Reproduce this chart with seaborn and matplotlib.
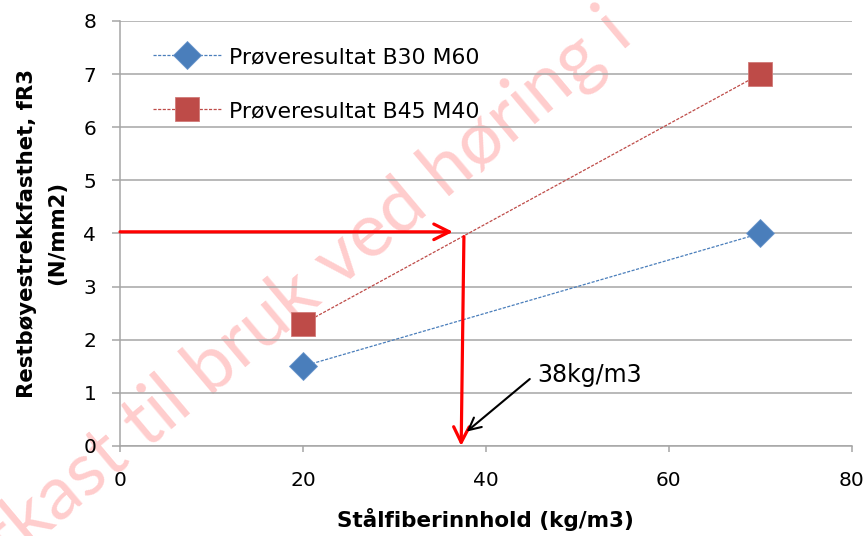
import matplotlib
matplotlib.use("Agg")
import matplotlib.pyplot as plt
import seaborn as sns
import pandas as pd

# ---- data ----
fiber_content = [20, 70]
b30_m60 = [1.5, 4.0]
b45_m40 = [2.3, 7.0]
series_names = ["Prøveresultat B30 M60", "Prøveresultat B45 M40"]
x_ticks = [0, 20, 40, 60, 80]
y_ticks = [0, 1, 2, 3, 4, 5, 6, 7, 8]
annot_text = "38kg/m3"
watermark = "Utkast til bruk ved høring i"

sns.set_theme(style="white")
plt.rcParams['font.family'] = ['DejaVu Sans']
plt.rcParams['text.color'] = 'black'
plt.rcParams['axes.labelcolor'] = 'black'

fig = plt.figure(figsize=(8.65, 5.36), dpi=100)
ax = fig.add_axes([0.1387, 0.168, 0.846, 0.793])

grid_c = "#A6A6A6"
blue = "#4A7EBB"
red = "#BE4B48"

# watermark
fig.text(0.333, 0.43, watermark, rotation=40, rotation_mode="anchor",
         ha="center", va="center", fontsize=54, color="#FFCDCD",
         fontfamily="Lato",
         zorder=0.2, transform=fig.transFigure)
ax.set_zorder(1)
ax.patch.set_alpha(0)

df1 = pd.DataFrame({"x": fiber_content, "y": b30_m60})
df2 = pd.DataFrame({"x": fiber_content, "y": b45_m40})
sns.lineplot(data=df1, x="x", y="y", ax=ax, color=blue, lw=0.9,
             linestyle=(0, (2.5, 1.2)), marker="D", markersize=14,
             markeredgecolor="#6A96CC", markeredgewidth=0.6,
             label=series_names[0], zorder=3)
sns.lineplot(data=df2, x="x", y="y", ax=ax, color=red, lw=0.9,
             linestyle=(0, (2.5, 1.2)), marker="s", markersize=17,
             markeredgecolor="#D07B78", markeredgewidth=0.6,
             label=series_names[1], zorder=3)

# red arrows
ax.annotate("", xy=(36.4, 4.03), xytext=(0, 4.03),
            arrowprops=dict(arrowstyle="->", color="red", lw=2.3,
                            mutation_scale=28, shrinkA=0, shrinkB=0),
            annotation_clip=False, zorder=4)
ax.annotate("", xy=(37.3, 0.0), xytext=(37.6, 3.94),
            arrowprops=dict(arrowstyle="->", color="red", lw=2.3,
                            mutation_scale=28, shrinkA=0, shrinkB=0),
            annotation_clip=False, zorder=4)
# black arrow with text
ax.annotate("", xy=(37.9, 0.27), xytext=(44.8, 1.26),
            arrowprops=dict(arrowstyle="->", color="black", lw=1.5,
                            mutation_scale=22, shrinkA=0, shrinkB=0),
            zorder=4)
ax.text(45.6, 1.33, annot_text, fontsize=17, va="center", ha="left", zorder=4)

ax.set_xlim(0, 80)
ax.set_ylim(0, 8)
ax.set_xticks(x_ticks)
ax.set_yticks(y_ticks)
ax.yaxis.grid(True, color=grid_c, lw=1.1)
ax.xaxis.grid(False)
ax.set_axisbelow(True)
for s in ["top", "right"]:
    ax.spines[s].set_visible(False)
for s in ["left", "bottom"]:
    ax.spines[s].set_color(grid_c)
    ax.spines[s].set_linewidth(1.1)
ax.tick_params(axis="y", which="both", left=True, length=6, width=1.1,
               color=grid_c, labelsize=14.5, pad=11, labelcolor="black")
ax.tick_params(axis="x", which="both", bottom=True, length=4, width=1.1,
               color=grid_c, labelsize=14.5, pad=14, labelcolor="black")

ax.set_xlabel("Stålfiberinnhold (kg/m3)", fontsize=15.5, fontweight="bold",
              labelpad=13)
ax.set_ylabel("Restbøyestrekkfasthet, fR3\n(N/mm2)", fontsize=15.3,
              fontweight="bold", labelpad=12, linespacing=1.6)

leg = ax.legend(loc="upper left", bbox_to_anchor=(0.018, 0.985), frameon=False,
                fontsize=15.8, handlelength=3.1, labelspacing=1.55,
                handletextpad=0.35)

fig.savefig("out.png", dpi=100)
